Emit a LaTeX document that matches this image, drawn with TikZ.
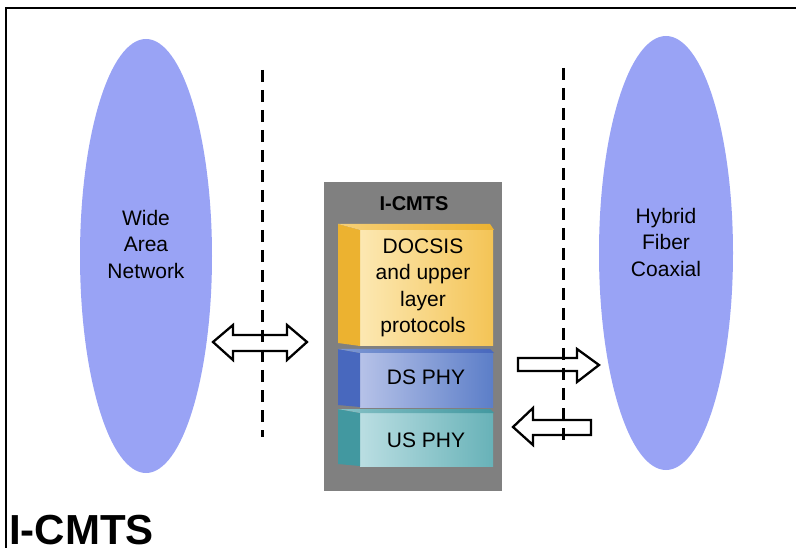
\documentclass[tikz,border=0pt]{standalone}
\usepackage{fontspec}
\setmainfont{Liberation Sans}
\definecolor{cloud}{RGB}{153,163,245}
\definecolor{chassis}{RGB}{128,128,128}
\definecolor{yelLight}{RGB}{252,232,178}
\definecolor{yelDark}{RGB}{244,196,86}
\definecolor{yelSide}{RGB}{236,178,48}
\definecolor{dsLight}{RGB}{182,194,232}
\definecolor{dsDark}{RGB}{92,126,200}
\definecolor{dsSide}{RGB}{72,104,190}
\definecolor{usLight}{RGB}{186,222,226}
\definecolor{usDark}{RGB}{104,178,184}
\definecolor{usSide}{RGB}{66,152,160}
\tikzset{
  lbl/.style={font=\fontsize{21}{26.5}\selectfont, align=center, inner sep=0pt},
  demarc/.style={line width=3pt, dash pattern=on 12pt off 8pt},
  blockarrow/.style={draw=black, fill=white, line width=2.3pt, line join=miter},
}
\begin{document}
\begin{tikzpicture}[x=1pt,y=-1pt]
\useasboundingbox (0,0) rectangle (796,548);
% frame
\draw[line width=2.8pt] (6,548) -- (6,8) -- (797,8);

% networks on both sides
\fill[cloud] (146,256) ellipse [x radius=66, y radius=217];
\fill[cloud] (666,253) ellipse [x radius=67, y radius=217];
\node[lbl] (wan) at (146,244) {Wide\\Area\\Network};
\node[lbl] (hfc) at (666,242) {Hybrid\\Fiber\\Coaxial};

% I-CMTS chassis
\fill[chassis] (324,182) rectangle (502,491);
\node[font=\fontsize{20}{24}\selectfont\bfseries, inner sep=0pt] (title) at (414,204) {I-CMTS};

% DOCSIS layer
\shade[left color=yelLight, right color=yelDark] (360,230) rectangle (493,346);
\fill[yelSide] (338,224) -- (360,230) -- (360,346) -- (338,343) -- cycle;
\shade[left color=yelDark!80!white, right color=yelSide] (338,224) -- (490,224) -- (494,230) -- (360,230) -- cycle;
\node[lbl] (docsis) at (423,288) {DOCSIS\\and upper\\layer\\protocols};

% DS PHY layer
\shade[left color=dsLight, right color=dsDark] (360,353) rectangle (493,407);
\fill[dsSide] (338,349) -- (360,353) -- (360,407) -- (338,405) -- cycle;
\shade[left color=dsDark!80!white, right color=dsSide] (338,349) -- (490,349) -- (494,353) -- (360,353) -- cycle;
\node[lbl] (ds) at (426,377) {DS PHY};

% US PHY layer
\shade[left color=usLight, right color=usDark] (360,413) rectangle (493,466);
\fill[usSide] (338,409) -- (360,413) -- (360,466) -- (338,464) -- cycle;
\shade[left color=usDark!80!white, right color=usSide] (338,409) -- (490,409) -- (494,413) -- (360,413) -- cycle;
\node[lbl] (us) at (426,440) {US PHY};

% block arrows
\draw[blockarrow] (213,342) -- (233,325) -- (233,335) -- (287,335) -- (287,325) -- (307,342)
  -- (287,360) -- (287,351) -- (233,351) -- (233,360) -- cycle;
\draw[blockarrow] (518,358) -- (577,358) -- (577,349) -- (599,365) -- (577,382) -- (577,371) -- (518,371) -- cycle;
\draw[blockarrow] (591,420) -- (533,420) -- (533,408) -- (513,427) -- (533,445) -- (533,435) -- (591,435) -- cycle;

% demarcation lines
\coordinate (lt) at (262,70);  \coordinate (lb) at (262,437);
\coordinate (rt) at (563,68);  \coordinate (rb) at (563,445);
\draw[demarc] (lt) -- (lb);
\draw[demarc] (rt) -- (rb);

% caption
\node[font=\fontsize{42}{48}\selectfont\bfseries, anchor=base west, inner sep=0pt] (caption) at (9,544) {I-CMTS};
\end{tikzpicture}
\end{document}
